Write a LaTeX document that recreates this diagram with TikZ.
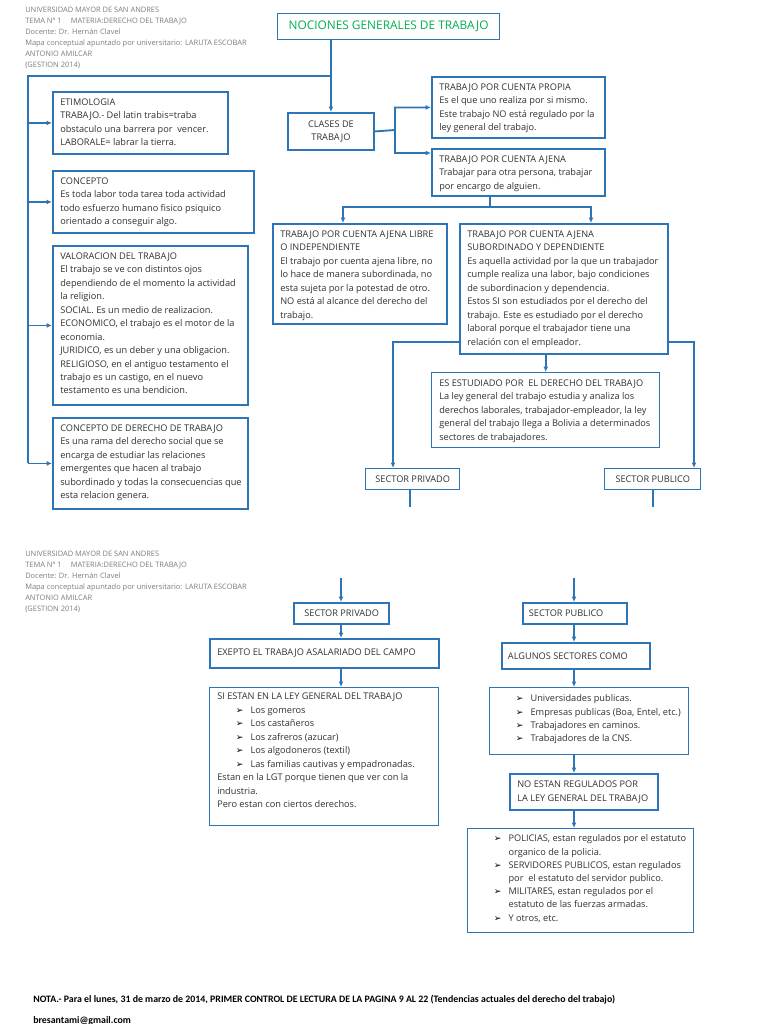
\documentclass[tikz,border=0pt]{standalone}
\usepackage{fontspec}
\setmainfont{Open Sans}
\newfontfamily\notefont{Carlito}
\newfontfamily\symfont{DejaVu Sans}
\usepackage{tikz}
\usetikzlibrary{arrows.meta,calc}
\definecolor{mapblue}{RGB}{46,117,182}
\definecolor{titlegreen}{RGB}{0,176,80}
\definecolor{headgray}{RGB}{125,125,125}
\definecolor{textgray}{RGB}{50,50,50}
\newcommand{\bodyfont}{\fontsize{6.9}{10.1}\selectfont}
\newcommand{\bul}{{\symfont\fontsize{6.8}{6.8}\selectfont\color{black}➢}}
\newcommand{\itm}{\hspace*{14pt}\makebox[11pt][l]{\bul}}
\newcommand{\cnt}{\hspace*{25pt}}
\tikzset{
  conn/.style={draw=mapblue, line width=1.4pt},
  conarrow/.style={conn, -{Latex[length=4pt,width=3.6pt]}},
  box/.style={draw=mapblue, line width=1.4pt, anchor=north west, inner sep=0pt, text=textgray, font=\bodyfont},
  thinbox/.style={box, line width=0.9pt},
  wh/.style 2 args={minimum width=#1*0.75pt, minimum height=#2*0.75pt},
  txt/.style={anchor=north west, align=left, inner xsep=6pt, inner ysep=5.5pt, text=textgray, font=\bodyfont},
  lab/.style={anchor=west, inner xsep=6pt, text=textgray, font=\bodyfont},
  head/.style={anchor=north west, align=left, inner sep=0pt, text=headgray, font=\fontsize{5.6}{8.25}\selectfont}
}

\begin{document}
\begin{tikzpicture}[x=0.75pt,y=-0.75pt]
                \fill[white] (0,0) rectangle (768,1024);
                \useasboundingbox (0,0) rectangle (768,1024);

                %page headers
                \node (head1) at (25,7) [head]{UNIVERSIDAD MAYOR DE SAN ANDRES\\TEMA Nº 1\hspace{7pt}MATERIA:DERECHO DEL TRABAJO\\Docente: Dr. Hernán Clavel\\Mapa conceptual apuntado por universitario: LARUTA ESCOBAR\\ANTONIO AMILCAR\\(GESTION 2014)};
                \node (head2) at (25,551) [head]{UNIVERSIDAD MAYOR DE SAN ANDRES\\TEMA Nº 1\hspace{7pt}MATERIA:DERECHO DEL TRABAJO\\Docente: Dr. Hernán Clavel\\Mapa conceptual apuntado por universitario: LARUTA ESCOBAR\\ANTONIO AMILCAR\\(GESTION 2014)};

                %title and first split, define boxes first
                \node (title) at (277,13) [thinbox, wh={222}{26}, text=titlegreen, font=\fontsize{8.9}{10}\selectfont]{NOCIONES GENERALES DE TRABAJO};
                \node (clases) at (287,112) [box, wh={86}{37}, align=center]{CLASES DE\\TRABAJO};

                %left column
                \node (etim) at (52,91) [box, wh={175}{62}]{};
                \node at (etim.north west) [txt]{ETIMOLOGIA\\TRABAJO.- Del latin trabis=traba\\obstaculo una barrera por\ \ vencer.\\LABORALE= labrar la tierra.};
                \node (conc) at (52,170) [box, wh={201}{62}]{};
                \node at (conc.north west) [txt]{CONCEPTO\\Es toda labor toda tarea toda actividad\\todo esfuerzo humano fisico psiquico\\orientado a conseguir algo.};
                \node (valo) at (52,245) [box, wh={195}{159}]{};
                \node at (valo.north west) [txt]{VALORACION DEL TRABAJO\\El trabajo se ve con distintos ojos\\dependiendo de el momento la actividad\\la religion.\\SOCIAL. Es un medio de realizacion.\\ECONOMICO, el trabajo es el motor de la\\economia.\\JURIDICO, es un deber y una obligacion.\\RELIGIOSO, en el antiguo testamento el\\trabajo es un castigo, en el nuevo\\testamento es una bendicion.};
                \node (dere) at (52,417) [box, wh={195}{91}]{};
                \node at (dere.north west) [txt]{CONCEPTO DE DERECHO DE TRABAJO\\Es una rama del derecho social que se\\encarga de estudiar las relaciones\\emergentes que hacen al trabajo\\subordinado y todas la consecuencias que\\esta relacion genera.};

                %clases de trabajo
                \node (propia) at (431,76) [box, wh={173}{61}]{};
                \node at (propia.north west) [txt]{TRABAJO POR CUENTA PROPIA\\Es el que uno realiza por si mismo.\\Este trabajo NO está regulado por la\\ley general del trabajo.};
                \node (ajena) at (431,148) [box, wh={173}{47}]{};
                \node at (ajena.north west) [txt]{TRABAJO POR CUENTA AJENA\\Trabajar para otra persona, trabajar\\por encargo de alguien.};
                \node (libre) at (272,223) [box, wh={174}{100}]{};
                \node at (libre.north west) [txt]{TRABAJO POR CUENTA AJENA LIBRE\\O INDEPENDIENTE\\El trabajo por cuenta ajena libre, no\\lo hace de manera subordinada, no\\esta sujeta por la potestad de otro.\\NO está al alcance del derecho del\\trabajo.};
                \node (subord) at (459,223) [box, wh={208}{130}]{};
                \node at (subord.north west) [txt]{TRABAJO POR CUENTA AJENA\\SUBORDINADO Y DEPENDIENTE\\Es aquella actividad por la que un trabajador\\cumple realiza una labor, bajo condiciones\\de subordinacion y dependencia.\\Estos SI son estudiados por el derecho del\\trabajo. Este es estudiado por el derecho\\laboral porque el trabajador tiene una\\relación con el empleador.};
                \node (estud) at (431,372) [box, line width=1.1pt, wh={228}{75}]{};
                \node at (estud.north west) [txt]{ES ESTUDIADO POR\ \ EL DERECHO DEL TRABAJO\\La ley general del trabajo estudia y analiza los\\derechos laborales, trabajador-empleador, la ley\\general del trabajo llega a Bolivia a determinados\\sectores de trabajadores.};
                \node (sprivA) at (365,468) [box, line width=1.1pt, wh={94}{21}]{SECTOR PRIVADO};
                \node (spubA) at (604,468) [box, line width=1.1pt, wh={96}{21}]{SECTOR PUBLICO};

                %second page, sector privado
                \node (privb) at (293,602) [box, line width=1.8pt, wh={95}{21}]{SECTOR PRIVADO};
                \node (exepto) at (209,638) [box, wh={229}{29}]{};
                \node at (exepto.west) [lab]{EXEPTO EL TRABAJO ASALARIADO DEL CAMPO};
                \node (siestan) at (209,687) [thinbox, wh={229}{138}]{};
                \node at (siestan.north west) [txt, inner ysep=4.5pt]{SI ESTAN EN LA LEY GENERAL DEL TRABAJO\\\itm Los gomeros\\\itm Los castañeros\\\itm Los zafreros (azucar)\\\itm Los algodoneros (textil)\\\itm Las familias cautivas y empadronadas.\\Estan en la LGT porque tienen que ver con la\\industria.\\Pero estan con ciertos derechos.};

                %second page, sector publico
                \node (pubb) at (522,602) [box, line width=1.8pt, wh={104}{21}]{};
                \node at (pubb.west) [lab, inner xsep=5pt]{SECTOR PUBLICO};
                \node (algunos) at (501,642) [box, wh={148}{26}]{};
                \node at (algunos.west) [lab, inner xsep=5pt]{ALGUNOS SECTORES COMO};
                \node (lista) at (489,687) [box, line width=1.1pt, wh={199}{67}]{};
                \node at (lista.north west) [txt]{\itm Universidades publicas.\\\itm Empresas publicas (Boa, Entel, etc.)\\\itm Trabajadores en caminos.\\\itm Trabajadores de la CNS.};
                \node (noestan) at (509,773) [box, wh={148}{36}]{};
                \node at (noestan.north west) [txt, inner ysep=6pt]{NO ESTAN REGULADOS POR\\LA LEY GENERAL DEL TRABAJO};
                \node (listb) at (467,828) [thinbox, wh={226}{104}]{};
                \node at (listb.north west) [txt, inner ysep=5pt, font=\fontsize{6.9}{9.9}\selectfont]{\itm POLICIAS, estan regulados por el estatuto\\\cnt organico de la policia.\\\itm SERVIDORES PUBLICOS, estan regulados\\\cnt por\ \ el estatuto del servidor publico.\\\itm MILITARES, estan regulados por el\\\cnt estatuto de las fuerzas armadas.\\\itm Y otros, etc.};

                %note at the foot
                \node (nota) at (33,1002) [anchor=base west, inner sep=0pt, font=\notefont\bfseries\fontsize{7.4}{8}\selectfont]{NOTA.- Para el lunes, 31 de marzo de 2014, PRIMER CONTROL DE LECTURA DE LA PAGINA 9 AL 22 (Tendencias actuales del derecho del trabajo)};
                \node (mail) at (33,1023) [anchor=base west, inner sep=0pt, font=\notefont\bfseries\fontsize{7.4}{8}\selectfont]{bresantami@gmail.com};

                %left rail from the title
                \coordinate (rtop) at (28,76);
                \draw[conarrow] (title.south -| clases.north) -- (clases.north);
                \draw[conn] (rtop -| clases.north) -- (rtop) -- (rtop |- dere.west);
                \draw[conarrow] (rtop |- etim.west) -- (etim.west);
                \draw[conarrow] (rtop |- conc.west) -- (conc.west);
                \draw[conarrow] (rtop |- valo.west) -- (valo.west);
                \draw[conarrow] (rtop |- dere.west) -- (dere.west);

                %clases de trabajo split
                \coordinate (cfork) at (395,130);
                \coordinate (ajin) at ($(ajena.north west)+(0,5)$);
                \draw[conarrow] (clases.east) -- (cfork) |- (propia.west);
                \draw[conarrow] (cfork) |- (ajin);

                %cuenta ajena split
                \coordinate (ajfork) at (490,207);
                \coordinate (libin) at ($(libre.north west)+(71,0)$);
                \coordinate (subin) at ($(subord.north west)+(132,0)$);
                \draw[conn] (ajfork |- ajena.south) -- (ajfork);
                \draw[conarrow] (ajfork) -| (libin);
                \draw[conarrow] (ajfork) -| (subin);

                %subordinado to the sectors
                \coordinate (sfl) at (393,342);
                \coordinate (sfr) at (694,342);
                \draw[conarrow] (sfl -| subord.west) -- (sfl) -- (sfl |- sprivA.north);
                \draw[conarrow] (sfr -| subord.east) -- (sfr) -- (sfr |- spubA.north);
                \draw[conarrow] (subord.south -| estud.north) -- (estud.north);

                %lines going on to the next page
                \coordinate (cutl) at (410,507);
                \coordinate (cutr) at (653,507);
                \draw[conn] (cutl |- sprivA.south) -- (cutl);
                \draw[conn] (cutr |- spubA.south) -- (cutr);

                %second page connectors
                \coordinate (topl) at (341,578);
                \coordinate (topr) at (574,578);
                \draw[conarrow] (topl) -- (topl |- privb.north);
                \draw[conarrow] (topl |- privb.south) -- (topl |- exepto.north);
                \draw[conarrow] (topl |- exepto.south) -- (topl |- siestan.north);
                \draw[conarrow] (topr) -- (topr |- pubb.north);
                \draw[conarrow] (topr |- pubb.south) -- (topr |- algunos.north);
                \draw[conarrow] (topr |- algunos.south) -- (topr |- lista.north);
                \draw[conarrow] (topr |- lista.south) -- (topr |- noestan.north);
                \draw[conarrow] (topr |- noestan.south) -- (topr |- listb.north);
\end{tikzpicture}
\end{document}
